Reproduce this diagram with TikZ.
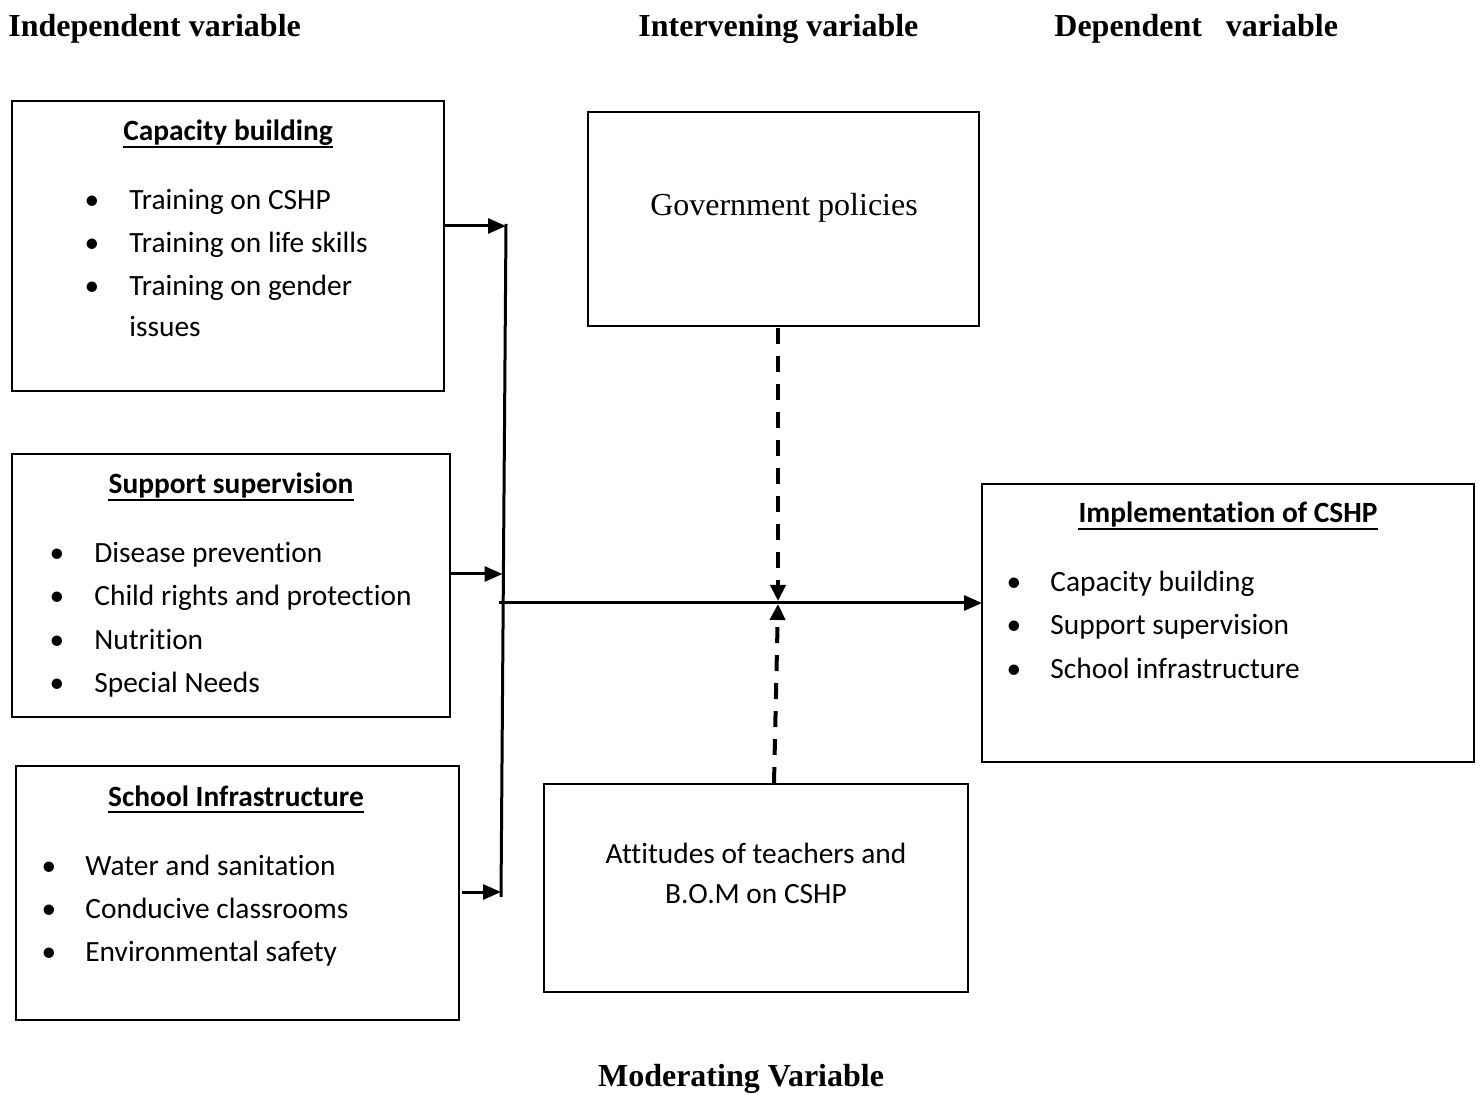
\documentclass[tikz,border=0pt]{standalone}
\usepackage{fontspec}
\setmainfont{Liberation Serif}
\newfontfamily\calfont[Ligatures=NoCommon]{Carlito}
\usetikzlibrary{arrows.meta,calc}
\begin{document}
\begin{tikzpicture}[x=0.5pt,y=-0.5pt,
  box/.style={draw,line width=1pt},
  head/.style={font=\fontsize{16}{19}\selectfont\bfseries,anchor=base west,inner sep=0},
  title/.style={font=\calfont\fontsize{14.7}{17}\selectfont\bfseries,anchor=base,inner sep=0},
  item/.style={font=\calfont\fontsize{14.7}{17}\selectfont,anchor=base west,inner sep=0},
  bul/.style={font=\calfont\fontsize{14.7}{17}\selectfont,anchor=base,inner sep=0},
  uline/.style={line width=1pt},
  conn/.style={line width=1.5pt,-{Triangle[length=9pt,width=7.5pt]}},
  dash conn/.style={line width=2pt,dash pattern=on 8pt off 6pt,-{Triangle[length=8pt,width=7.5pt]}}]
\useasboundingbox (0,0) rectangle (1482,1095);
% headings
\node[head] (h1) at (8,37) {Independent variable};
\node[head] (h2) at (638,37) {Intervening variable};
\node[head] (h3) at (1054,37) {Dependent\ \ \ variable};
\node[head,anchor=base] (h4) at (741,1086) {Moderating Variable};
% boxes
\draw[box] (12,101) rectangle (444,391);
\coordinate (cbR) at (444,226);
\node[title] (t1) at (228,141) {Capacity building};
\draw[uline] ($(t1.base west)+(0,6)$) -- ($(t1.base east)+(0,6)$);
\node[bul] (b11) at (92,210) {•}; \node[item] (i11) at (129,210) {Training on CSHP};
\node[bul] (b12) at (92,253) {•}; \node[item] (i12) at (129,253) {Training on life skills};
\node[bul] (b13) at (92,296) {•}; \node[item] (i13) at (129,296) {Training on gender};
\node[item] (i14) at (129,337) {issues};

\draw[box] (12,454) rectangle (450,717);
\coordinate (ssR) at (450,574);
\node[title] (t2) at (231,494) {Support supervision};
\draw[uline] ($(t2.base west)+(0,6)$) -- ($(t2.base east)+(0,6)$);
\node[bul] (b21) at (57,563) {•}; \node[item] (i21) at (94,563) {Disease prevention};
\node[bul] (b22) at (57,606) {•}; \node[item] (i22) at (94,606) {Child rights and protection};
\node[bul] (b23) at (57,649) {•}; \node[item] (i23) at (94,649) {Nutrition};
\node[bul] (b24) at (57,692) {•}; \node[item] (i24) at (94,692) {Special Needs};

\draw[box] (16,766) rectangle (459,1020);
\coordinate (siR) at (462,892);
\node[title] (t3) at (236,806) {School Infrastructure};
\draw[uline] ($(t3.base west)+(0,6)$) -- ($(t3.base east)+(0,6)$);
\node[bul] (b31) at (49,875) {•}; \node[item] (i31) at (85,875) {Water and sanitation};
\node[bul] (b32) at (49,918) {•}; \node[item] (i32) at (85,918) {Conducive classrooms};
\node[bul] (b33) at (49,961) {•}; \node[item] (i33) at (85,961) {Environmental safety};

\draw[box] (588,112) rectangle (979,326);
\node[inner sep=0,anchor=base,font=\fontsize{16}{19}\selectfont] (gp) at (784,216) {Government policies};
\coordinate (gpB) at (778,328);

\draw[box] (982,484) rectangle (1474,762);
\coordinate (imL) at (982,603);
\node[title] (t4) at (1228,523) {Implementation of CSHP};
\draw[uline] ($(t4.base west)+(0,6)$) -- ($(t4.base east)+(0,6)$);
\node[bul] (b41) at (1014,592) {•}; \node[item] (i41) at (1050,592) {Capacity building};
\node[bul] (b42) at (1014,635) {•}; \node[item] (i42) at (1050,635) {Support supervision};
\node[bul] (b43) at (1014,678) {•}; \node[item] (i43) at (1050,678) {School infrastructure};

\draw[box] (544,784) rectangle (968,992);
\node[item,anchor=base] (a1) at (756,863) {Attitudes of teachers and};
\node[item,anchor=base] (a2) at (756,903) {B.O.M on CSHP};
\coordinate (atT) at (774,783);

% connectors
\coordinate (vTop) at (506,224);
\coordinate (vBot) at (501,897);
\coordinate (v1) at (506,226);
\coordinate (v2) at (502.5,574);
\coordinate (v3) at (501,892);
\coordinate (hL) at (499,603);
\coordinate (mid1) at (778,601);
\coordinate (mid2) at (778,604);
\draw[line width=1.5pt] (vTop) -- (vBot);
\draw[conn] (cbR) -- (v1);
\draw[conn] (ssR) -- (v2);
\draw[conn] (siR) -- (v3);
\draw[conn] (hL) -- (imL);
\draw[dash conn] (gpB) -- (mid1);
\draw[dash conn] (atT) -- (mid2);
\end{tikzpicture}
\end{document}
